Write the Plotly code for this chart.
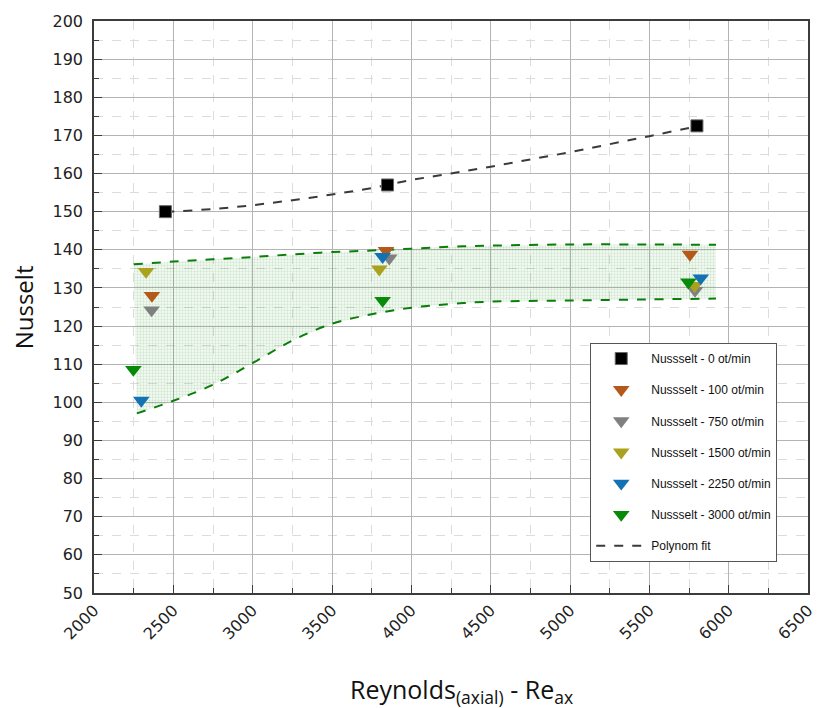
import plotly.graph_objects as go

# ---- data ----
re_0 = [2450, 3850, 5800];    nu_0 = [150.0, 157.0, 172.5]
re_100 = [2365, 3840, 5756];  nu_100 = [128.0, 139.8, 138.8]
re_750 = [2363, 3861, 5788];  nu_750 = [124.2, 137.8, 129.3]
re_1500 = [2328, 3798, 5786]; nu_1500 = [134.3, 134.9, 130.6]
re_2250 = [2298, 3819, 5824]; nu_2250 = [100.5, 138.2, 132.6]
re_3000 = [2248, 3819, 5746]; nu_3000 = [108.6, 126.7, 131.5]

fit0_x = [2450, 2500, 2750, 3000, 3250, 3500, 3750, 4000, 4250, 4500, 4750, 5000, 5250, 5500, 5800]
fit0_y = [150.0, 150.05, 150.7, 151.7, 153.0, 154.5, 156.2, 158.3, 160.0, 161.8, 163.7, 165.6, 167.7, 169.8, 172.4]

up_x = [2250, 2500, 2750, 3000, 3250, 3500, 3750, 4000, 4250, 4500, 5000, 5500, 5920]
up_y = [136.2, 136.9, 137.5, 138.1, 138.8, 139.4, 139.8, 140.3, 140.8, 141.1, 141.4, 141.4, 141.3]
lo_x = [2270, 2500, 2750, 3000, 3250, 3500, 3750, 4000, 4250, 4500, 5000, 5500, 5920]
lo_y = [97.1, 100.4, 104.6, 110.3, 116.2, 120.6, 123.1, 124.8, 125.8, 126.4, 126.7, 127.0, 127.2]

x_ticks = [2000, 2500, 3000, 3500, 4000, 4500, 5000, 5500, 6000, 6500]
y_ticks = list(range(50, 201, 10))

GREEN = "#0a7d0a"
fig = go.Figure()

# shaded band between the two fits
fig.add_trace(go.Scatter(
    x=up_x + lo_x[::-1], y=up_y + lo_y[::-1],
    mode="lines", fill="toself", line=dict(width=0),
    fillcolor="rgba(0,0,0,0)",
    fillpattern=dict(shape=".", fgcolor="rgba(30,140,30,0.36)", bgcolor="rgba(120,180,120,0.06)",
                     size=3, solidity=0.45),
    showlegend=False, hoverinfo="skip"))
fig.add_trace(go.Scatter(x=up_x, y=up_y, mode="lines", line=dict(color=GREEN, width=2, dash="dash", shape="spline"),
                         showlegend=False, hoverinfo="skip"))
fig.add_trace(go.Scatter(x=lo_x, y=lo_y, mode="lines", line=dict(color=GREEN, width=2, dash="dash", shape="spline"),
                         showlegend=False, hoverinfo="skip"))
fig.add_trace(go.Scatter(x=fit0_x, y=fit0_y, mode="lines", name="Polynom fit",
                         line=dict(color="#3a3a3a", width=2, dash="dash", shape="spline"),
                         legendgroup="fit", legendrank=7))

series = [
    ("Nussselt - 0 ot/min", re_0, nu_0, "square", "#000000", 12),
    ("Nussselt - 100 ot/min", re_100, nu_100, "triangle-down", "#b4591a", 14.5),
    ("Nussselt - 750 ot/min", re_750, nu_750, "triangle-down", "#808080", 14.5),
    ("Nussselt - 1500 ot/min", re_1500, nu_1500, "triangle-down", "#aaa21e", 14.5),
    ("Nussselt - 2250 ot/min", re_2250, nu_2250, "triangle-down", "#1272b3", 14.5),
    ("Nussselt - 3000 ot/min", re_3000, nu_3000, "triangle-down", "#078a07", 14.5),
]
for i, (name, xs, ys, sym, col, sz) in enumerate(series):
    fig.add_trace(go.Scatter(
        x=xs, y=ys, mode="markers", name=name,
        marker=dict(symbol=sym, color=col, size=sz,
                    line=dict(width=1 if sym == "square" else 0, color="#666666")),
        legendgroup=f"g{i}", legendrank=i + 1))

axis_common = dict(
    showline=True, linecolor="#3c3c3c", linewidth=1.5, mirror=True,
    ticks="inside", ticklen=8, tickwidth=1, tickcolor="#3c3c3c",
    showgrid=True, gridcolor="#b4b4b4", gridwidth=1,
    zeroline=False, automargin=False,
    tickfont=dict(family="DejaVu Sans", size=16, color="#222222"),
)

fig.update_xaxes(range=[2000, 6500], tickvals=x_ticks, ticktext=[str(v) for v in x_ticks], tickangle=-45,
                 minor=dict(dtick=250, tick0=2000, ticks="inside", ticklen=5, tickcolor="#3c3c3c",
                            showgrid=True, gridcolor="#dcdcdc", griddash="dash", gridwidth=1),
                 **axis_common)
fig.update_yaxes(range=[50, 200], tickvals=y_ticks, ticktext=[str(v) for v in y_ticks],
                 ticklabelstandoff=6,
                 minor=dict(dtick=5, tick0=50, ticks="inside", ticklen=5, tickcolor="#3c3c3c",
                            showgrid=True, gridcolor="#dcdcdc", griddash="dash", gridwidth=1),
                 **axis_common)

fig.update_layout(
    width=821, height=708,
    margin=dict(l=86, r=21, t=13, b=123, pad=0),
    plot_bgcolor="white", paper_bgcolor="white",
    legend=dict(x=0.695, y=0.437, xanchor="left", yanchor="top",
                bordercolor="#555555", borderwidth=1, bgcolor="white",
                font=dict(family="Liberation Sans", size=12, color="#111111"),
                tracegroupgap=12.2, itemwidth=50),
    annotations=[
        dict(text="Nusselt", xref="paper", yref="paper", x=-0.099, y=0.5,
             textangle=-90, showarrow=False, xanchor="center", yanchor="middle",
             font=dict(family="Open Sans", size=24, color="#111111")),
        dict(text="Reynolds<sub>(axial)</sub> - Re<sub>ax</sub>", xref="paper", yref="paper",
             x=0.515, y=-0.206, showarrow=False, xanchor="center", yanchor="bottom",
             font=dict(family="Open Sans", size=25, color="#111111")),
    ],
)

fig.write_html("out.html")
